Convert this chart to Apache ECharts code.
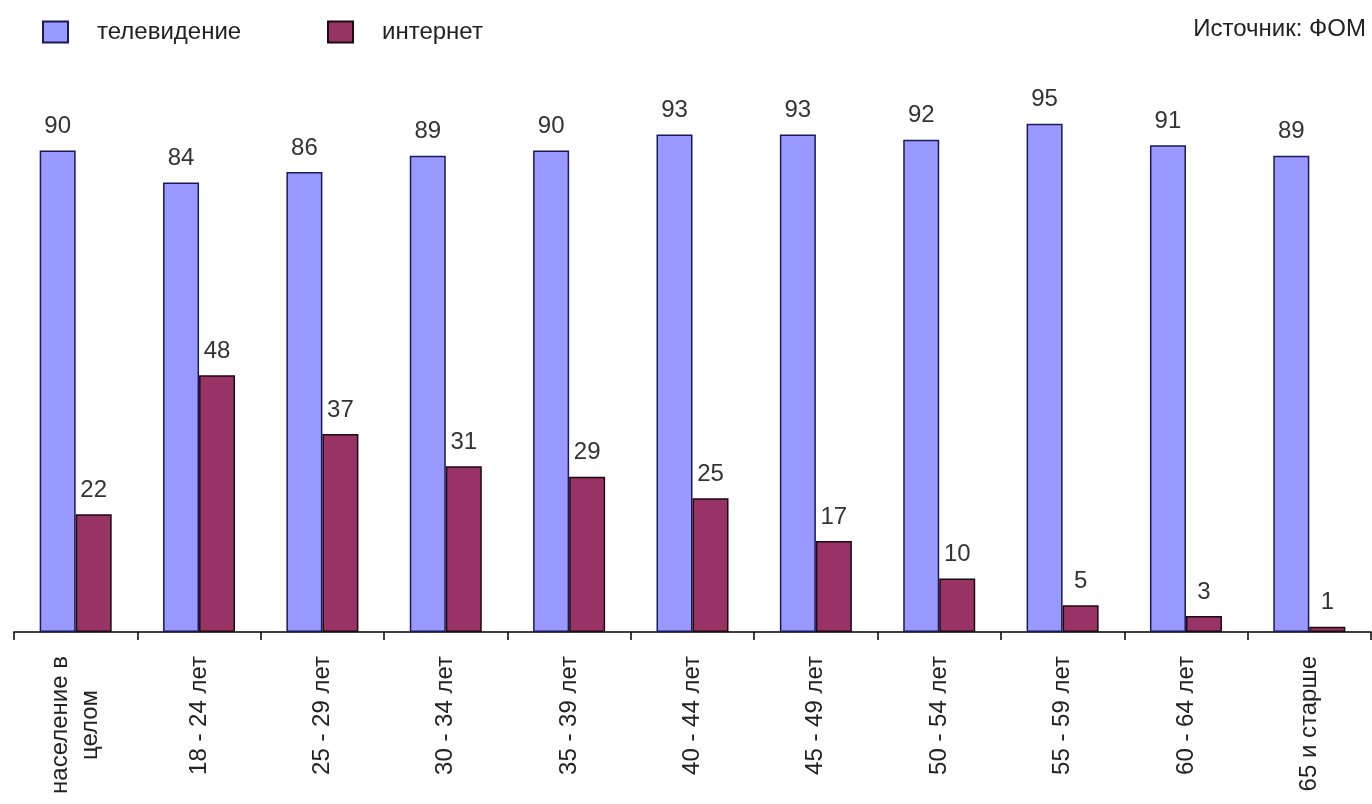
<!DOCTYPE html>
<html>
<head>
<meta charset="utf-8">
<script src="https://cdn.jsdelivr.net/npm/echarts@6/dist/echarts.min.js"></script>
<style>html,body{margin:0;padding:0;background:#fff}#c{width:1372px;height:804px}</style>
</head>
<body>
<div id="c"></div>
<script>
const categories = ['население в целом', '18 - 24 лет', '25 - 29 лет', '30 - 34 лет', '35 - 39 лет', '40 - 44 лет', '45 - 49 лет', '50 - 54 лет', '55 - 59 лет', '60 - 64 лет', '65 и старше'];
const tvValues = [90, 84, 86, 89, 90, 93, 93, 92, 95, 91, 89];
const internetValues = [22, 48, 37, 31, 29, 25, 17, 10, 5, 3, 1];
const seriesNames = ['телевидение', 'интернет'];
const sourceText = 'Источник: ФОМ';

const FONT = '"Liberation Sans", Arial, sans-serif';
const chart = echarts.init(document.getElementById('c'));
const labelStyle = {show: true, position: 'top', distance: 12, fontSize: 24, color: '#333', fontFamily: FONT};
const legendText = {fontSize: 24, color: '#222', fontFamily: FONT, padding: [0, 0, 0, 24]};
chart.setOption({
  animation: false,
  backgroundColor: '#fff',
  grid: {left: 14, right: 1, top: 97, bottom: 172, containLabel: false},
  legend: [
    {data: [seriesNames[0]], left: 37, top: 15, icon: 'rect', itemWidth: 25, itemHeight: 21, textStyle: legendText},
    {data: [seriesNames[1]], left: 322, top: 15, icon: 'rect', itemWidth: 25, itemHeight: 21, textStyle: legendText}
  ],
  graphic: [{type: 'text', right: 6, top: 17, style: {text: sourceText, fontSize: 24, fill: '#222', fontFamily: FONT}}],
  xAxis: {
    type: 'category', data: categories,
    axisLine: {lineStyle: {color: '#000', width: 1.5}},
    axisTick: {show: true, alignWithLabel: false, length: 8, lineStyle: {color: '#000', width: 1.5}},
    axisLabel: {
      rotate: 90, margin: 24, interval: 0, fontSize: 24, color: '#222', fontFamily: FONT,
      formatter: function (v) {
        if (v === 'население в целом') return '{a|население в}\n{c|целом}';
        return '{a|' + v + '}';
      },
      rich: {
        a: {fontSize: 24, color: '#222', fontFamily: FONT, lineHeight: 30},
        c: {fontSize: 24, color: '#222', fontFamily: FONT, lineHeight: 30, align: 'center'}
      }
    }
  },
  yAxis: {type: 'value', min: 0, max: 100, show: false, splitLine: {show: false}},
  series: [
    {name: seriesNames[0], type: 'bar', data: tvValues, barWidth: 36, barGap: '0%',
     itemStyle: {color: '#9999FF', borderColor: '#1a1a5a', borderWidth: 1.5}, label: labelStyle},
    {name: seriesNames[1], type: 'bar', data: internetValues, barWidth: 36,
     itemStyle: {color: '#993366', borderColor: '#1a0a10', borderWidth: 1.5}, label: labelStyle}
  ]
});
</script>
</body>
</html>
